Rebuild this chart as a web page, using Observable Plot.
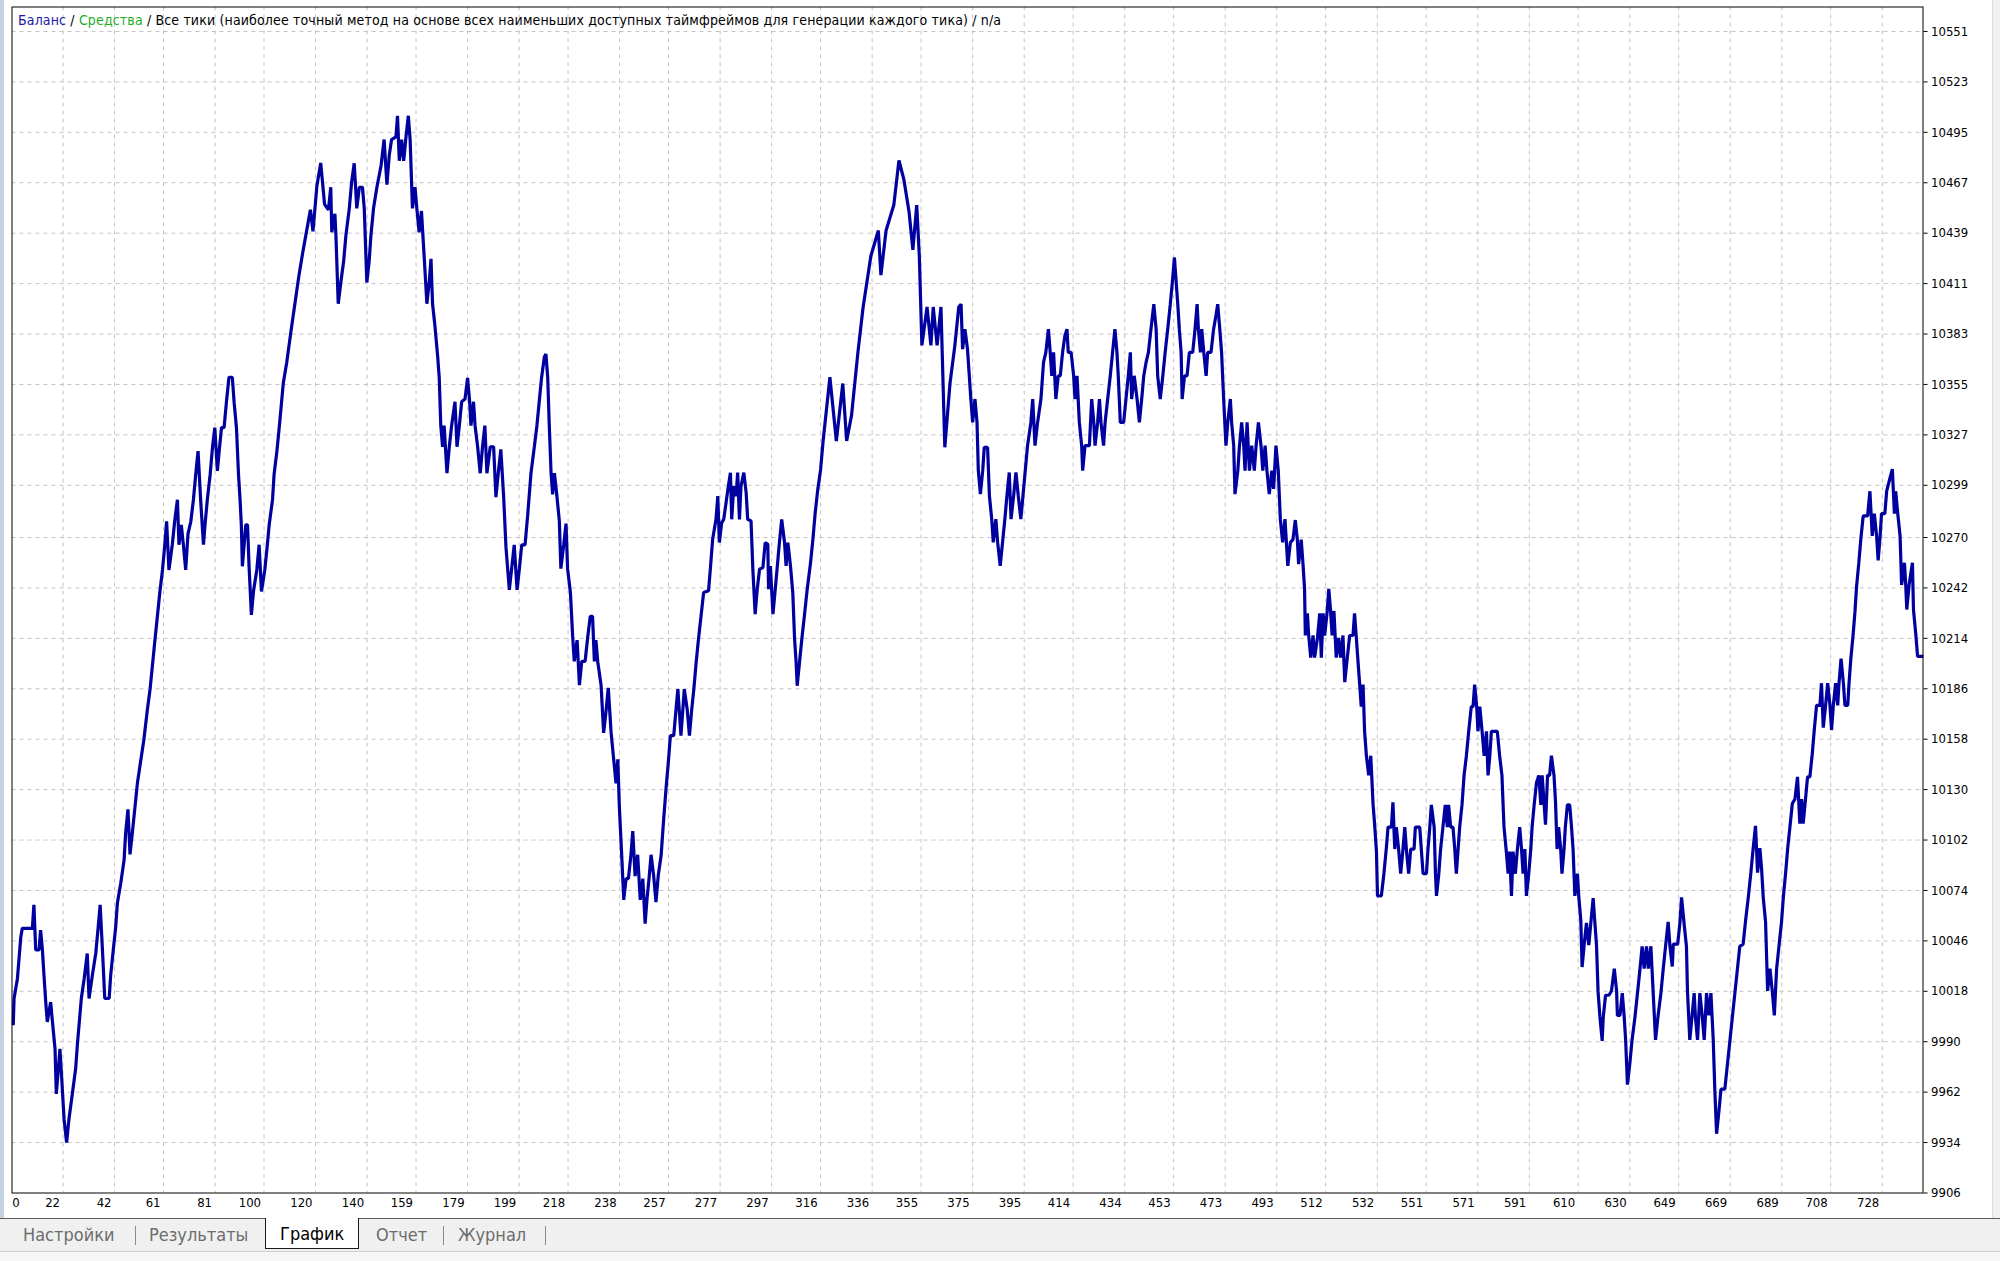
<!DOCTYPE html>
<html lang="ru">
<head>
<meta charset="utf-8">
<script src="https://cdn.jsdelivr.net/npm/d3@7"></script>
<script src="https://cdn.jsdelivr.net/npm/@observablehq/plot@0.6"></script>
<style>
  html, body { margin: 0; padding: 0; background: #ffffff; }
  #page { position: relative; width: 2000px; height: 1261px; overflow: hidden; background: #ffffff; }
  #chart { position: absolute; left: 0; top: 0; }
  #edge { position: absolute; left: 0; top: 0; width: 4px; height: 1218px; background: #c5d2e2; }
  #rightedge { position: absolute; right: 0; top: 0; width: 7px; height: 1218px; background: #f0f0f0; border-left: 1px solid #dcdcdc; }
  #legend { position: absolute; left: 18px; top: 12px; font-family: "DejaVu Sans Condensed", "DejaVu Sans", sans-serif; font-size: 14px; letter-spacing: 0.15px; line-height: 16px; white-space: nowrap; color: #000; }
  .bal { color: #1a1aa6; }
  .eq { color: #1fae1f; }
  #tabs { position: absolute; left: 0; top: 1218px; width: 2000px; height: 32px; background: #f0f0f0; border-top: 1px solid #5a5a5a; }
  #tabsbottom { position: absolute; left: 0; top: 1251px; width: 2000px; height: 10px; background: #f6f6f6; border-top: 1px solid #cfcfcf; }
  .tab { position: absolute; top: 5px; font-family: "DejaVu Sans Condensed", "DejaVu Sans", sans-serif; font-size: 18px; line-height: 22px; color: #6d6d6d; white-space: nowrap; }
  .sep { position: absolute; top: 7px; width: 1px; height: 19px; background: #8a8a8a; }
  .active { position: absolute; left: 265px; top: -1px; width: 92px; height: 30px; background: #ffffff; border: 1px solid #1a1a1a; border-top: none; }
  .active span { position: absolute; left: 14px; top: 5px; font-family: "DejaVu Sans Condensed", "DejaVu Sans", sans-serif; font-size: 18px; line-height: 22px; color: #000; white-space: nowrap; }
</style>
</head>
<body>
<div id="page">
  <div id="chart"></div>
  <div id="edge"></div>
  <div id="rightedge"></div>
  <div id="legend"><span class="bal">Баланс</span> / <span class="eq">Средства</span> / Все тики (наиболее точный метод на основе всех наименьших доступных таймфреймов для генерации каждого тика) / n/a</div>
  <div id="tabs">
    <span class="tab" style="left:23px">Настройки</span>
    <div class="sep" style="left:135px"></div>
    <span class="tab" style="left:149px">Результаты</span>
    <div class="active"><span>График</span></div>
    <span class="tab" style="left:376px">Отчет</span>
    <div class="sep" style="left:443px"></div>
    <span class="tab" style="left:458px">Журнал</span>
    <div class="sep" style="left:545px"></div>
  </div>
  <div id="tabsbottom"></div>
</div>
<script>
// Tick labels
const xTickLabels = [0,22,42,61,81,100,120,140,159,179,199,218,238,257,277,297,316,336,355,375,395,414,434,453,473,493,512,532,551,571,591,610,630,649,669,689,708,728];
const yTickLabels = [9906,9934,9962,9990,10018,10046,10074,10102,10130,10158,10186,10214,10242,10270,10299,10327,10355,10383,10411,10439,10467,10495,10523,10551];

// Balance curve: [trade number, balance]
const balanceA = [[2.7,10000],[3.0,10014],[4.3,10025],[5.6,10048],[6.2,10053],[10.1,10053],[10.7,10066],[11.4,10041],[12.7,10041],[13.3,10052],[14.0,10041],[14.6,10027],[15.3,10012],[15.9,10001],[17.2,10012],[17.9,10001],[18.9,9986],[19.4,9961],[20.8,9986],[21.4,9972],[22.4,9947],[23.4,9934],[24.3,9947],[25.6,9961],[26.9,9975],[27.6,9989],[29.1,10014],[30.2,10025],[31.4,10039],[32.1,10014],[33.4,10027],[34.7,10039],[35.6,10053],[36.4,10066],[37.3,10041],[38.2,10014],[39.9,10014],[40.5,10027],[41.5,10041],[42.4,10053],[43.1,10067],[44.4,10078],[45.7,10091],[46.3,10106],[47.2,10119],[48.0,10094],[48.9,10106],[50.9,10134],[53.4,10158],[54.7,10174],[55.8,10186],[57.6,10212],[59.6,10240],[60.6,10252],[61.5,10266],[62.2,10279],[63.1,10252],[64.4,10266],[65.4,10280],[66.4,10291],[67.0,10266],[67.9,10277],[68.7,10266],[69.6,10252],[70.5,10272],[71.6,10279],[72.6,10291],[73.5,10305],[74.4,10318],[75.4,10291],[76.5,10266],[77.1,10277],[78.0,10291],[79.1,10305],[80.0,10320],[80.9,10331],[81.9,10307],[82.6,10318],[83.5,10331],[84.5,10331],[85.4,10345],[86.4,10359],[87.7,10359],[88.4,10345],[89.3,10331],[90.1,10305],[90.7,10291],[91.2,10277],[91.6,10254],[92.9,10277],[93.6,10277],[94.2,10254],[95.1,10227],[95.9,10240],[97.2,10252],[98.1,10266],[99.0,10240],[100.3,10252],[101.3,10266],[102.0,10277],[103.3,10291],[103.9,10305],[105.0,10318],[105.9,10331],[106.8,10345],[107.5,10356],[108.8,10367]];
const balanceB = [[110.5,10385],[112,10400],[113.5,10415],[115,10428],[116.5,10440],[118,10452],[119,10440],[120.5,10465],[122,10478],[123.5,10455],[125,10452],[125.9,10464.5],[126.3,10439.5],[127.5,10449.8],[127.9,10438],[128.8,10399.8],[129.8,10411.6],[130.9,10423.4],[131.8,10438],[133.1,10452.8],[134,10467.5],[135,10477.8],[136,10452.8],[137,10464.5],[138.2,10464.5],[138.9,10452.8],[139.9,10411.6],[140.8,10423.4],[141.5,10438],[142.5,10452.8],[143.8,10464.5],[145.4,10476.3],[146.6,10491],[147.7,10466],[148.6,10482.2],[149.5,10491],[151.2,10492.5],[151.8,10504.2],[152.5,10479.2],[153.4,10491],[154.2,10479.2],[155.1,10492.5],[156,10504.2],[156.7,10491],[157.6,10452.8],[158.6,10464.5],[159.3,10452.8],[160.2,10439.5],[161.1,10451.3],[162.2,10424.8],[163.2,10399.8],[164.1,10411.6],[164.8,10424.8],[165.4,10399.8],[166.3,10388],[167.4,10370.4],[168,10358.6],[168.6,10332.1],[169.3,10320.4],[169.9,10332.1],[171,10305.7],[171.9,10320.4],[172.8,10332.1],[174.1,10345.4],[174.9,10320.4],[175.8,10332.1],[176.7,10345.4],[178,10346.9],[179,10358.6],[179.8,10345.4],[180.3,10332.1],[181.3,10345.4],[181.9,10332.1],[182.9,10320.4],[183.9,10305.7],[184.8,10320.4],[185.7,10332.1],[186.5,10305.7],[187.8,10320.4],[189.1,10320.4],[190,10292.4],[190.9,10305.7],[191.9,10318.9],[193,10292.4],[193.9,10264.5],[195.2,10240.9],[196.1,10252.7],[197.1,10265.9],[198.2,10240.9],[199.1,10252.7],[200,10265.9],[201.3,10265.9],[202.3,10282.1],[203.6,10305.7],[204.9,10320.4],[205.9,10332.1],[206.8,10345.4],[207.7,10358.6],[208.8,10370.4],[209.4,10371.8],[210.1,10358.6],[210.7,10332.1],[211.4,10305.7],[212,10293.9],[212.7,10305.7],[213.6,10293.9],[214.6,10279.2],[215.2,10252.7],[216.3,10265.9],[217.2,10277.7],[217.8,10252.7],[218.9,10239.5],[219.8,10214.5],[220.4,10201.2],[221.5,10213],[222.4,10188],[223.3,10201.2],[224.6,10201.2],[225.6,10214.5],[226.6,10226.2],[227.5,10226.2],[228.2,10201.2],[228.8,10213],[229.5,10201.2],[230.8,10188],[231.8,10161.5],[232.7,10173.2],[233.6,10186.5],[234.7,10161.5],[235.7,10146.8],[236.6,10133.5],[237.3,10146.8],[237.9,10120.3],[238.8,10093.8],[239.6,10068.8],[240.5,10080.6],[241.4,10080.6],[242.4,10093.8],[243.1,10107],[244,10082],[245,10093.8],[246,10068.8],[247,10080.6],[247.9,10055.6],[248.6,10068.8],[249.5,10082],[250.2,10093.8]];
const balanceC = [[251.2,10082.4],[252.1,10067.6],[253.0,10082.4],[254.1,10093.4],[255.1,10113.8],[256,10130.4],[256.9,10145.2],[257.7,10160],[259,10160],[259.9,10174.8],[260.6,10185.8],[261.8,10160],[263.1,10185.8],[264.2,10174.8],[265.1,10160],[266,10174.8],[266.8,10185.8],[267.7,10200.6],[268.6,10213.6],[269.6,10226.5],[270.6,10239.4],[272.5,10240.4],[273.2,10252.4],[274.1,10269],[275.4,10280.1],[276.1,10293],[276.7,10267.2],[277.6,10278.2],[278.4,10280.1],[279.3,10289.3],[280.2,10298.6],[281,10306],[281.5,10280.1],[282.3,10298.6],[283.2,10293],[283.8,10306],[284.5,10280.1],[285.1,10298.6],[286.2,10306],[287.1,10294.9],[287.7,10280.1],[289,10279.2],[289.7,10252.4],[290.6,10227.4],[291.4,10241.3],[292.3,10252.4],[293.6,10253.3],[294.5,10267.2],[295.5,10266.2],[295.8,10241.3],[296.5,10254.2],[297.5,10227.4],[298.4,10241.3],[299.1,10252.4],[300,10267.2],[300.9,10280.1],[302,10267.2],[302.6,10254.2],[303.3,10267.2],[304.3,10254.2],[305.2,10239.4],[305.9,10213.6],[306.5,10200.6],[306.9,10187.7],[307.8,10200.6],[308.7,10213.6],[309.7,10226.5],[310.8,10241.3],[312.1,10256.1],[313,10269],[313.9,10283.8],[314.9,10296.7],[316,10307.8],[316.9,10322.6],[319.6,10359],[322.1,10323.6],[324.6,10355.5],[326.1,10323.6],[328.0,10337.8],[330.5,10373.2],[332.5,10398],[335.5,10426.3],[338.4,10440.5],[339.4,10415.7],[341.4,10440.5],[344.4,10454.6],[346.4,10479.4],[348.3,10468.8],[350.3,10451.1],[351.8,10429.8],[353.3,10454.6],[354.3,10426.3],[355.3,10376.7],[357.3,10398],[358.8,10376.7],[359.7,10398],[361.2,10376.7],[362.7,10398],[364.2,10320.1],[366.2,10355.5],[368.1,10376.7],[369.6,10398]];
const balanceD = [[370.5,10399.6],[371.1,10374.6],[372,10385.7],[373,10374.6],[373.7,10359.8],[374.3,10346.9],[375,10333.9],[375.9,10346.9],[376.7,10333.9],[377.2,10307.1],[378,10294.1],[378.9,10307.1],[379.5,10320],[380.8,10320],[381.5,10293.2],[382.4,10280.2],[383,10267.3],[384,10280.2],[384.7,10267.3],[385.7,10254.3],[386.6,10267.3],[387.5,10280.2],[388.3,10293.2],[389.2,10306.1],[389.9,10280.2],[390.9,10293.2],[391.8,10306.1],[392.7,10293.2],[393.7,10280.2],[395,10300.6],[396.3,10321],[397.6,10333.9],[398.3,10346.9],[399.2,10321],[400.2,10333.9],[401.5,10346.9],[402.5,10367.2],[403.4,10372.8],[404.4,10385.7],[405.1,10372.8],[405.7,10359.8],[406.4,10372.8],[407.3,10346.9],[408.2,10359.8],[409,10359.8],[409.9,10372.8],[410.8,10382],[411.6,10385.7],[412.1,10372.8],[413.2,10372.8],[414.2,10359.8],[414.7,10346.9],[415.5,10359.8],[416.4,10333.9],[417.3,10321],[417.7,10307.1],[418.6,10321],[420.3,10321],[421.2,10346.9],[422,10333.9],[422.5,10321],[423.5,10333.9],[424.2,10346.9],[424.8,10333.9],[425.8,10321],[426.4,10333.9],[427.4,10346.9],[428.4,10359.8],[429.3,10372.8],[430.2,10385.7],[431,10372.8],[431.5,10359.8],[432.3,10333.9],[433.6,10333.9],[434.5,10346.9],[435.4,10359.8],[436.2,10372.8],[436.7,10346.9],[437.7,10359.8],[438.8,10346.9],[439.7,10333.9],[440.6,10346.9],[441.4,10359.8],[442.3,10367.2],[443.2,10372.8],[444.2,10385.7],[445.3,10399.6],[446.2,10385.7],[446.8,10359.8],[447.8,10346.9],[448.8,10359.8],[449.7,10372.8],[450.7,10385.7],[451.7,10399.6],[452.6,10413.5],[453.3,10425.5],[453.9,10413.5],[454.6,10399.6],[455.2,10385.7],[455.9,10372.8],[456.3,10346.9],[457.2,10359.8],[458.2,10359.8],[459.1,10372.8],[460.4,10372.8],[461.3,10385.7],[462.1,10399.6],[462.6,10385.7],[463.4,10372.8],[463.9,10385.7],[464.7,10372.8],[465.6,10359.8],[466.2,10372.8],[467.5,10372.8],[468.5,10385.7],[469.4,10393.2],[470.1,10399.6],[470.9,10385.7],[471.6,10372.8],[472.4,10346.9],[473.3,10321],[474,10333.9],[475,10346.9],[475.5,10333.9],[476.3,10321],[476.8,10294.1],[477.9,10307.1],[478.5,10320],[479.4,10333.9],[480.2,10321],[480.7,10307.1],[481.5,10333.9],[482.4,10307.1],[483.3,10321],[484.3,10307.1],[485,10321],[485.9,10333.9],[486.9,10321],[487.6,10307.1],[488.5,10321],[489.2,10307.1],[490.1,10294.1],[491.1,10307.1],[491.8,10297],[492.7,10321],[493.6,10307.1],[494.4,10280.2],[495.3,10267.3],[496.2,10280.2],[497.3,10254.3],[498.3,10267.3]];
const balanceE = [[499.3,10268.8],[500.2,10279.7],[501,10268.8],[501.5,10255.2],[502.5,10268.8],[503.2,10255.2],[503.8,10241.5],[504.1,10215.6],[504.9,10227.9],[505.4,10215.6],[506.2,10203.3],[507.1,10215.6],[507.7,10203.3],[508.8,10214.2],[509.7,10227.9],[510.3,10203.3],[511,10227.9],[511.6,10215.6],[512.6,10229.2],[513.2,10241.5],[513.9,10229.2],[514.5,10215.6],[515.2,10229.2],[516.1,10203.3],[517,10214.2],[517.8,10203.3],[518.7,10215.6],[519.4,10189.7],[520.4,10203.3],[521.3,10215.6],[522.6,10215.6],[523.2,10227.9],[523.9,10214.2],[524.5,10202],[525.2,10188.3],[525.8,10176.1],[526.5,10188.3],[527.1,10162.4],[527.8,10148.8],[528.7,10137.9],[529.5,10148.8],[530.4,10121.5],[531,10110.6],[531.7,10095.6],[532.1,10071],[533.6,10071],[534.6,10083.3],[535.5,10097],[536.2,10109.2],[537.5,10109.2],[538.1,10122.9],[538.8,10097],[539.4,10109.2],[540.3,10097],[541.1,10083.3],[542,10097],[542.7,10109.2],[543.3,10097],[544.2,10083.3],[545,10097],[546.3,10097],[546.8,10109.2],[548.5,10109.2],[549.1,10097],[549.8,10083.3],[551.1,10083.3],[551.7,10097],[552.4,10109.2],[553,10121.5],[554.1,10109.2],[554.6,10083.3],[555,10071],[555.9,10083.3],[556.6,10097],[557.5,10109.2],[558.4,10121.5],[559.2,10109.2],[559.7,10121.5],[560.5,10109.2],[561.4,10109.2],[562.1,10097],[562.7,10083.3],[563.4,10097],[564,10109.2],[564.9,10121.5],[565.7,10137.9],[566.6,10148.8],[567.5,10162.4],[568.5,10176.1],[569.2,10176.1],[569.8,10188.3],[570.6,10176.1],[571.1,10162.4],[571.8,10176.1],[572.7,10162.4],[573.5,10148.8],[574.4,10162.4],[575,10137.9],[575.7,10148.8],[576.3,10162.4],[578.6,10162.4],[579.5,10148.8],[580.4,10137.9],[581.2,10109.2],[582.1,10095.6],[582.8,10083.3],[583.4,10095.6],[584.1,10071],[584.7,10095.6],[585.6,10083.3],[586.4,10097],[587.3,10109.2],[588,10097],[588.6,10083.3],[589.3,10097],[589.9,10071],[590.8,10083.3],[591.6,10097],[592.1,10109.2],[592.9,10121.5],[593.8,10133.8],[594.7,10137.9],[595.5,10121.5],[596,10137.9],[596.8,10121.5],[597.3,10110.6],[598.1,10137.9],[598.9,10137.9],[599.6,10148.8],[600.6,10137.9],[601.2,10122.9],[601.8,10097],[602.4,10109.2],[603.2,10097],[603.7,10083.3],[604.5,10097],[605,10109.2],[605.8,10121.5],[606.7,10121.5],[607.4,10109.2],[608,10097],[608.7,10071],[609.7,10083.3],[610.2,10071],[611,10057.4],[611.5,10031.5],[612.3,10043.7],[613.2,10056],[614.1,10043.7],[614.9,10056],[615.8,10069.7],[616.4,10057.4],[617.1,10043.7],[617.7,10017.8],[618.4,10004.2],[619.3,9990.5]];
const balanceF = [[619.7,10003.4],[620.6,10015.8],[621.9,10015.8],[622.9,10018.2],[624,10030.6],[624.9,10018.2],[625.2,10004.6],[626.2,10004.6],[627.1,10017],[627.8,10004.6],[628.4,9991],[629.1,9966.2],[630,9977.4],[630.9,9991],[632,10003.4],[633,10017],[633.9,10029.4],[634.8,10043],[635.6,10030.6],[636.5,10043],[637.2,10030.6],[638.2,10043],[639.1,10017],[640,9991],[641,10004.6],[642.1,10017],[643,10030.6],[643.9,10043],[644.9,10056.6],[645.6,10043],[646.5,10031.8],[646.9,10044.2],[648.6,10044.2],[649.5,10056.6],[650.1,10070.2],[651.1,10055.4],[652,10043],[652.4,10018.2],[653.3,9991],[654.2,10004.6],[655,10017],[655.5,10003.4],[656.3,9991],[657.2,10017],[658.1,10004.6],[658.9,9991],[659.8,10017],[660.7,10004.6],[661.5,10017],[662.4,9991],[663,9963.7],[663.7,9938.9],[664.6,9951.3],[665.4,9963.7],[666.9,9963.7],[667.9,9977.4],[668.9,9991],[669.8,10003.4],[670.8,10017],[671.8,10030.6],[672.7,10043],[674,10044.2],[674.9,10056.6],[676,10070.2],[677,10083.9],[677.9,10097.5],[678.8,10109.9],[679.6,10083.9],[680.5,10097.5],[681.2,10085.1],[681.8,10070.2],[682.7,10056.6],[683.5,10018.2],[684.4,10030.6],[685.3,10018.2],[686.1,10004.6],[687,10030.6],[687.9,10043],[688.9,10056.6],[689.6,10070.2],[690.5,10083.9],[691.3,10097.5],[692.2,10109.9],[693.1,10122.3],[694.1,10124.7],[695.1,10137.1],[696,10111.1],[696.7,10124.7],[697.3,10111.1],[698.2,10124.7],[699,10137.1],[699.9,10137.1],[700.8,10149.5],[701.6,10163.1],[702.5,10176.8],[703.8,10176.8],[704.4,10189.1],[705.1,10164.4],[706,10176.8],[706.8,10189.1],[707.7,10176.8],[708.3,10163.1],[709,10176.8],[709.9,10189.1],[710.7,10176.8],[711.2,10189.1],[712,10202.8],[712.9,10189.1],[713.5,10176.8],[714.6,10176.8],[715.1,10189.1],[715.8,10202.8],[716.7,10216.4],[717.4,10228.8],[718,10242.4],[718.9,10256],[719.7,10269.6],[720.6,10282],[722.3,10282],[723.2,10295.7],[724.1,10270.9],[724.9,10283.3],[725.8,10270.9],[726.4,10257.3],[727.1,10269.6],[727.7,10283.3],[729,10283.3],[729.7,10295.7],[731,10303.1],[731.9,10308],[732.7,10283.3],[733.2,10295.7],[734,10283.3],[734.9,10270.9],[735.5,10243.6],[736.6,10256],[737.1,10243.6],[737.5,10230],[738.4,10243.6],[739.7,10256],[740.1,10230],[741,10216.4],[741.7,10204],[743.3,10204]];

const balance = [...balanceA, ...balanceB, ...balanceC, ...balanceD, ...balanceE, ...balanceF]
  .map(([trade, value]) => ({trade, value}));

const font = '"DejaVu Sans Condensed", "DejaVu Sans", sans-serif';
const gridStyle = {stroke: "#c4c4c4", strokeOpacity: 1, strokeDasharray: "4,4"};

const chart = Plot.plot({
  width: 2000,
  height: 1218,
  marginLeft: 11.5,
  marginRight: 77.5,
  marginTop: 6.5,
  marginBottom: 25.5,
  x: {domain: [2.2, 743.8]},
  y: {domain: [9906, 10564.6]},
  style: {fontFamily: font, fontSize: "13px", color: "#000", background: "transparent", overflow: "visible"},
  marks: [
    Plot.gridY(yTickLabels.slice(1), gridStyle),
    Plot.gridX(xTickLabels.slice(1), gridStyle),
    Plot.line(balance, {x: "trade", y: "value", stroke: "#0000a0", strokeWidth: 3.2, strokeLinejoin: "miter", strokeLinecap: "square"}),
    Plot.frame({stroke: "#000", strokeWidth: 1}),
    Plot.axisY(yTickLabels, {anchor: "right", tickSize: 4, tickPadding: 4, label: null, tickFormat: d => String(d), fill: "#000"}),
    Plot.axisX(xTickLabels.slice(1), {anchor: "bottom", tickSize: 0, tickPadding: 5, textAnchor: "end", dx: -3, label: null, tickFormat: d => String(d), fill: "#000"}),
    Plot.axisX(xTickLabels.slice(0, 1), {anchor: "bottom", tickSize: 0, tickPadding: 5, textAnchor: "start", dx: 6, label: null, tickFormat: d => String(d), fill: "#000"})
  ]
});
document.getElementById("chart").appendChild(chart);
</script>
</body>
</html>
